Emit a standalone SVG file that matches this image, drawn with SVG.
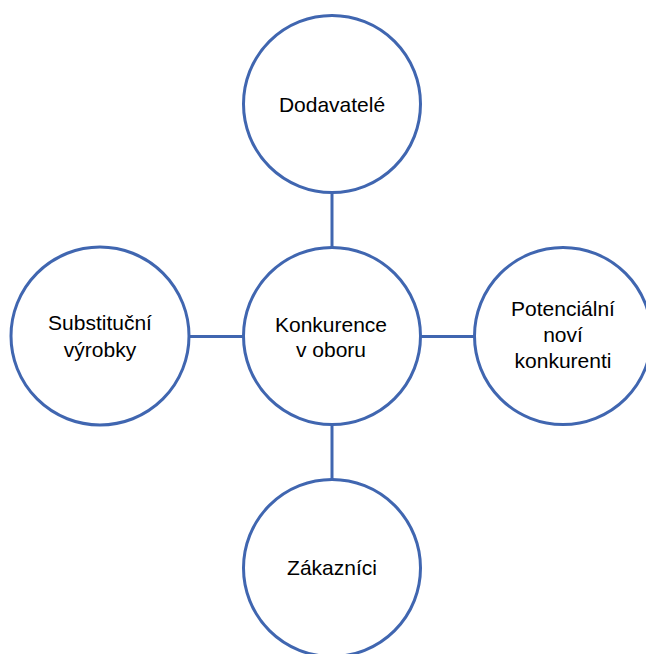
<svg xmlns="http://www.w3.org/2000/svg" width="646" height="654" viewBox="0 0 646 654">
<style>
.node{fill:#FFFFFF;stroke:#4066B0;stroke-width:3}
.edge{stroke:#4066B0;stroke-width:3;fill:none}
.lbl{font-family:"Liberation Sans",Arial,sans-serif;font-size:21px;fill:#000000;text-anchor:middle}
</style>
<rect width="646" height="654" fill="#FFFFFF"/>
<g id="connectors">
<line class="edge" x1="332" y1="192" x2="332" y2="248"/>
<line class="edge" x1="332" y1="424" x2="332" y2="480"/>
<line class="edge" x1="189" y1="336.5" x2="243" y2="336.5"/>
<line class="edge" x1="421" y1="336.5" x2="475" y2="336.5"/>
</g>
<g id="node-dodavatele">
<circle class="node" cx="332" cy="104" r="88.5"/>
<text class="lbl" x="332" y="111.5">Dodavatelé</text>
</g>
<g id="node-konkurence">
<circle class="node" cx="332" cy="336" r="88.5"/>
<text class="lbl" x="331" y="331.5">Konkurence</text>
<text class="lbl" x="331" y="356.5">v oboru</text>
</g>
<g id="node-substitucni">
<circle class="node" cx="100" cy="336" r="89"/>
<text class="lbl" x="100" y="330">Substituční</text>
<text class="lbl" x="100" y="356.5">výrobky</text>
</g>
<g id="node-potencialni">
<circle class="node" cx="563" cy="336" r="88.5"/>
<text class="lbl" x="563" y="316">Potenciální</text>
<text class="lbl" x="563" y="342">noví</text>
<text class="lbl" x="563" y="368">konkurenti</text>
</g>
<g id="node-zakaznici">
<circle class="node" cx="332" cy="568" r="88.5"/>
<text class="lbl" x="332" y="575">Zákazníci</text>
</g>
</svg>
